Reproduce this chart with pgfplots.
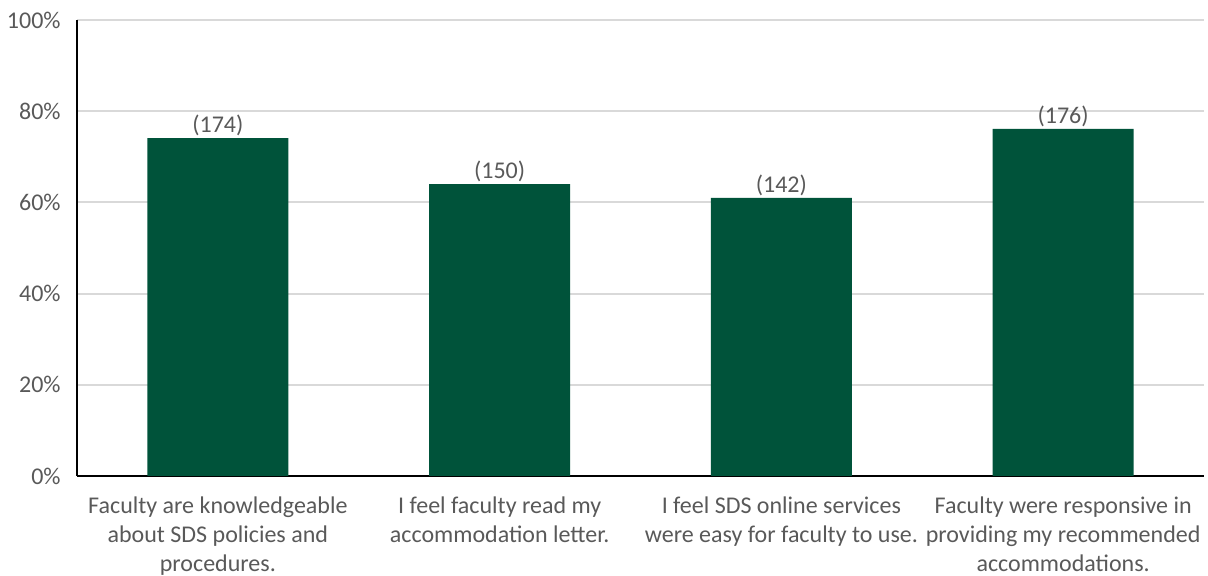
\documentclass[border=0pt]{standalone}
\usepackage{pgfplots}
\pgfplotsset{compat=1.18}
\usepackage{fontspec}
\setmainfont{Carlito}
\definecolor{txt}{HTML}{595959}
\definecolor{barc}{HTML}{00533A}
\definecolor{gridc}{HTML}{D9D9D9}
\begin{document}
\fontsize{12pt}{14.5pt}\selectfont
\begin{tikzpicture}
\useasboundingbox (0,0) rectangle (604pt,288pt);
\begin{axis}[
  at={(38.5pt,50pt)}, anchor=south west,
  scale only axis, width=563.5pt, height=228pt,
  xmin=-0.5, xmax=3.5, ymin=0, ymax=100,
  ytick={0,20,40,60,80,100},
  yticklabel={\pgfmathprintnumber{\tick}\%},
  /pgf/number format/assume math mode=true,
  ymajorgrids=true, xmajorgrids=false,
  y grid style={color=gridc, line width=1pt},
  axis x line*=bottom, axis y line*=left,
  axis line style={black, line width=0.7pt},
  x axis line style={-}, y axis line style={-},
  major tick length=0pt,
  tick label style={text=txt, font=\fontsize{12pt}{14.5pt}\selectfont},
  yticklabel style={xshift=-4pt},
  xtick={0,1,2,3},
  xticklabels={{Faculty are knowledgeable\\about SDS policies and\\procedures.},
    {I feel faculty read my\\accommodation letter.},
    {I feel SDS online services\\were easy for faculty to use.},
    {Faculty were responsive in\\providing my recommended\\accommodations.}},
  xticklabel style={align=center, anchor=north, yshift=-6.3pt},
  ybar, bar width=70.4pt,
  point meta=explicit symbolic,
  nodes near coords={(\pgfplotspointmeta)},
  nodes near coords style={text=txt, font=\fontsize{12pt}{14.5pt}\selectfont, inner sep=1pt},
]
\addplot[fill=barc, draw=none] coordinates {
  (0,74.1) [174]
  (1,64.0) [150]
  (2,61.0) [142]
  (3,76.1) [176]
};
\end{axis}
\end{tikzpicture}
\end{document}
